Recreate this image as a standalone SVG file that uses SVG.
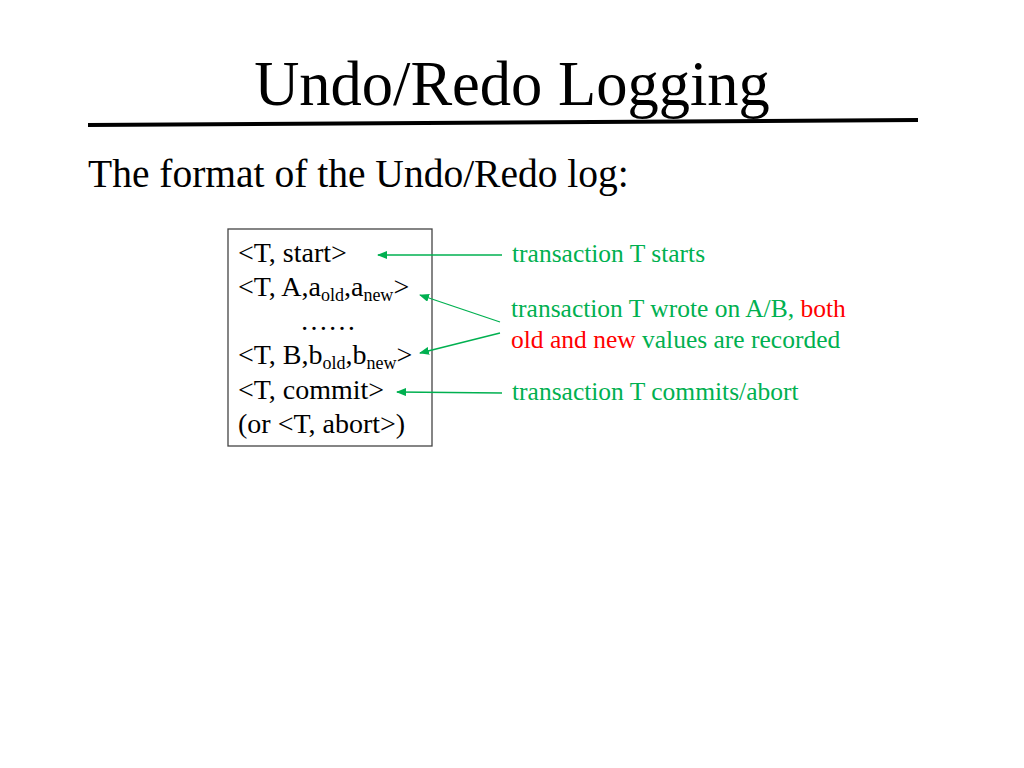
<svg xmlns="http://www.w3.org/2000/svg" width="1024" height="768" viewBox="0 0 1024 768">
<style>
.t{font-family:"Liberation Serif","Times New Roman",serif;fill:#000}
.g{font-family:"Liberation Serif","Times New Roman",serif;fill:#00b050;font-size:25.5px}
.r{fill:#ff0000}
.c{stroke:#00b050;stroke-width:1.3;fill:none;marker-end:url(#ah)}
</style>
<defs><marker id="ah" markerWidth="10" markerHeight="8" refX="9" refY="4" orient="auto" markerUnits="userSpaceOnUse"><path d="M0,0 L10,4 L0,8 z" fill="#00b050"/></marker></defs>
<rect width="1024" height="768" fill="#fff"/>
<g id="title"><text class="t" x="512" y="105" font-size="62.5" text-anchor="middle">Undo/Redo Logging</text>
<line x1="88" y1="125" x2="918" y2="120" stroke="#000" stroke-width="4"/></g>
<text class="t" x="88" y="187" font-size="39.5">The format of the Undo/Redo log:</text>
<g id="log">
<rect x="228" y="229" width="204" height="217" fill="none" stroke="#444" stroke-width="1.3"/>
<text class="t" font-size="28" x="238" y="262">&lt;T, start&gt;</text>
<text class="t" font-size="28" x="238" y="296">&lt;T, A,a<tspan font-size="18" dy="5">old</tspan><tspan dy="-5">,a</tspan><tspan font-size="18" dy="5">new</tspan><tspan dy="-5">&gt;</tspan></text>
<text class="t" font-size="28" x="300" y="330">……</text>
<text class="t" font-size="28" x="238" y="364">&lt;T, B,b<tspan font-size="18" dy="5">old</tspan><tspan dy="-5">,b</tspan><tspan font-size="18" dy="5">new</tspan><tspan dy="-5">&gt;</tspan></text>
<text class="t" font-size="28" x="238" y="399">&lt;T, commit&gt;</text>
<text class="t" font-size="28" x="238" y="433">(or &lt;T, abort&gt;)</text>
</g>
<g id="labels">
<text class="g" x="512" y="262">transaction T starts</text>
<text class="g" x="511" y="317">transaction T wrote on A/B, <tspan class="r">both</tspan></text>
<text class="g" x="511" y="348"><tspan class="r">old and new</tspan> values are recorded</text>
<text class="g" x="512" y="400">transaction T commits/abort</text>
</g>
<g id="connectors">
<path class="c" d="M502,255 L378,255"/>
<path class="c" d="M500,322 L420,295"/>
<path class="c" d="M500,333 L420,353"/>
<path class="c" d="M502,393 L397,392"/>
</g>
</svg>
